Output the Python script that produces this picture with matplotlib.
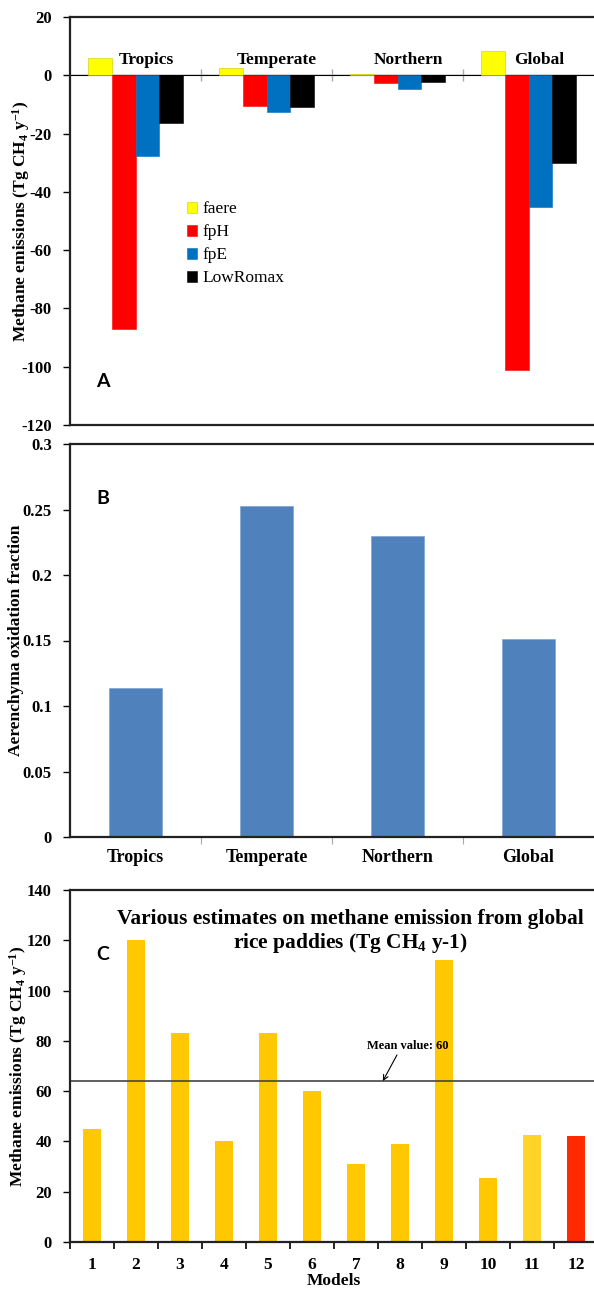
import numpy as np
import matplotlib
matplotlib.use("Agg")
import matplotlib.pyplot as plt
from matplotlib.ticker import FuncFormatter

# data
regions = ["Tropics", "Temperate", "Northern", "Global"]
faere = [5.8, 2.6, 0.3, 8.4]
fpH = [-87.2, -10.5, -2.8, -101.0]
fpE = [-27.7, -12.5, -4.6, -45.1]
low_romax = [-16.5, -11.0, -2.3, -30.0]

aer_frac = [0.114, 0.253, 0.230, 0.151]

models = [1, 2, 3, 4, 5, 6, 7, 8, 9, 10, 11, 12]
model_emis = [45, 120, 83, 40, 83, 60, 31, 39, 112, 25.5, 42.5, 42]
model_colors = ["#FFC800"] * 10 + ["#FFD426", "#FF2A00"]
mean_line = 64
mean_label = "Mean value: 60"

serif = "Liberation Serif"
plt.rcParams["font.family"] = serif
plt.rcParams["font.weight"] = "bold"
plt.rcParams["axes.unicode_minus"] = False
plt.rcParams["mathtext.fontset"] = "custom"
plt.rcParams["mathtext.rm"] = "Liberation Serif:bold"
plt.rcParams["mathtext.bf"] = "Liberation Serif:bold"
plt.rcParams["mathtext.it"] = "Liberation Serif:bold"

fig = plt.figure(figsize=(5.94, 12.9), dpi=100)
left = 70 / 594

def frame(ax):
    for s in ["top", "left", "bottom"]:
        ax.spines[s].set_linewidth(1.6)
        ax.spines[s].set_color("#222222")
    ax.spines["right"].set_visible(False)
    ax.tick_params(axis="y", direction="out", length=5, width=1, labelsize=12, pad=8)
    for t in ax.get_yticklabels():
        t.set_fontweight("bold")

def panel_letter(ax, s, y):
    ax.text(0.05, y, s, transform=ax.transAxes, fontsize=14, fontweight="bold",
            family="Lato", ha="left", va="center")

ylab = "Methane emissions (Tg CH$_\\mathbf{4}$ y$^\\mathbf{-1}$)"

# ---------------- A
axA = fig.add_axes([left, 1 - 425 / 1290, 1 - left, (425 - 17) / 1290])
x = np.arange(len(regions))
w = 0.183
series = [(faere, "#FFFF00", "faere"), (fpH, "#FF0000", "fpH"),
          (fpE, "#0070C0", "fpE"), (low_romax, "#000000", "LowRomax")]
for i, (vals, col, lab) in enumerate(series):
    axA.bar(x + (i - 1.5) * w, vals, w, color=col, label=lab,
            edgecolor="#C8C800" if col == "#FFFF00" else col, linewidth=0.4)
axA.set_xlim(-0.5, 3.5)
axA.set_ylim(-120, 20)
axA.set_yticks(np.arange(-120, 21, 20))
axA.set_xticks([])
frame(axA)
axA.axhline(0, color="#D9D9D9", lw=1.2, zorder=0)
sec = axA.secondary_xaxis(120 / 140)
sec.set_xticks(x[:-1] + 0.5)
sec.set_xticklabels([])
sec.spines["bottom"].set_visible(False)
sec.tick_params(direction="inout", length=9, color="#AAAAAA", width=1)
for i, r in enumerate(regions):
    axA.text(i + 0.08, 5.2, r, ha="center", va="center", fontsize=12.5, fontweight="bold")
axA.set_ylabel(ylab, fontsize=12.5, fontweight="bold")
axA.yaxis.set_label_coords(-0.073, 0.5)
leg = axA.legend(loc="upper left", bbox_to_anchor=(0.21, 0.565), frameon=False,
                 prop={"family": serif, "weight": "normal", "size": 12.5},
                 handlelength=0.6, handleheight=0.6, handletextpad=0.3,
                 labelspacing=0.4, borderaxespad=0)
panel_letter(axA, "A", (425 - 382) / 408)

# ---------------- B
axB = fig.add_axes([left, 1 - 837 / 1290, 1 - left, (837 - 444) / 1290])
axB.bar(x, aer_frac, 0.41, color="#4F81BD", edgecolor="#7FA3D0", linewidth=0.5)
axB.set_xlim(-0.5, 3.5)
axB.set_ylim(0, 0.3)
axB.set_yticks(np.arange(0, 0.301, 0.05))
axB.yaxis.set_major_formatter(FuncFormatter(lambda v, p: f"{v:g}" if v else "0"))
axB.set_xticks(x[:-1] + 0.5)
axB.set_xticklabels([])
axB.set_xticks(x, minor=True)
axB.set_xticklabels(regions, minor=True, fontsize=13, fontweight="bold")
axB.tick_params(axis="x", which="major", direction="out", length=5, color="#AAAAAA")
axB.tick_params(axis="x", which="minor", length=0, pad=9)
frame(axB)
axB.set_ylabel("Aerenchyma oxidation fraction", fontsize=12.5, fontweight="bold")
axB.yaxis.set_label_coords(-0.088, 0.5)
panel_letter(axB, "B", (837 - 498) / 393)

# ---------------- C
axC = fig.add_axes([left, 1 - 1242 / 1290, 528 / 594, (1242 - 890) / 1290])
axC.bar(models, model_emis, 0.41, color=model_colors)
axC.set_xlim(0.5, 12.5)
axC.set_ylim(0, 140)
axC.set_yticks(np.arange(0, 141, 20))
axC.set_xticks(np.arange(0.5, 12.6, 1))
axC.set_xticklabels([])
axC.set_xticks(models, minor=True)
axC.set_xticklabels([str(m) for m in models], minor=True, fontsize=12.5, fontweight="bold")
axC.tick_params(axis="x", which="major", direction="out", length=5, width=1.2)
axC.tick_params(axis="x", which="minor", length=0, pad=11)
frame(axC)
axC.axhline(mean_line, color="#444444", lw=1.2)
axC.annotate(mean_label, xy=(7.61, mean_line), xytext=(8.18, 75.5),
             fontsize=9, fontweight="bold", ha="center", va="bottom",
             arrowprops=dict(arrowstyle="->", color="black", lw=0.8, shrinkA=0, shrinkB=0,
                             relpos=(0.4, 0.2)))
axC.text((350 - 70) / 528, (1242 - 932) / 352,
         "Various estimates on methane emission from global\nrice paddies (Tg CH$_\\mathbf{4}$ y-1)",
         transform=axC.transAxes, ha="center", va="center", fontsize=15.4,
         fontweight="bold", linespacing=1.1)
axC.set_ylabel(ylab, fontsize=12.5, fontweight="bold")
axC.yaxis.set_label_coords(-0.078, 0.5)
axC.set_xlabel("Models", fontsize=12.5, fontweight="bold", labelpad=0)
panel_letter(axC, "C", (1242 - 955) / 352)

fig.savefig("out.png", dpi=100)
